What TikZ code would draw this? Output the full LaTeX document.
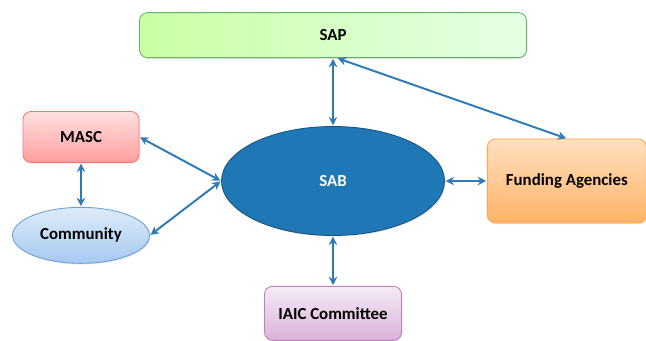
\documentclass[tikz,border=0pt]{standalone}
\usepackage{fontspec}
\setmainfont{Carlito}
\usepackage{tikz}
\usetikzlibrary{positioning}
\usetikzlibrary{shapes.geometric,arrows.meta,shadows}

\definecolor{arrowblue}{HTML}{2E7BB8}
\definecolor{sabblue}{HTML}{1F77B6}
\definecolor{commtop}{HTML}{DEECFA}
\definecolor{commbot}{HTML}{A5C9F1}
\definecolor{commline}{HTML}{6A9FD6}

\begin{document}
\begin{tikzpicture}[
    font=\fontsize{12}{14}\selectfont\bfseries,
    box/.style={rectangle,rounded corners=0.2cm,draw,line width=0.6pt,
      drop shadow={opacity=0.2,shadow xshift=0.8pt,shadow yshift=-0.8pt}},
    oval/.style={ellipse,draw,line width=0.6pt,
      drop shadow={opacity=0.2,shadow xshift=0.8pt,shadow yshift=-0.8pt}},
    both/.style={{Stealth[length=6pt,width=6pt]}-{Stealth[length=6pt,width=6pt]},
      draw=arrowblue,line width=1.4pt,shorten <=0.5pt,shorten >=0.5pt}
  ]
  \useasboundingbox (0,0) rectangle (16.15,-8.525);
                  \node [oval,fill=sabblue,draw=sabblue!70!black,text=white,
                    minimum width=5.575cm,minimum height=2.725cm] (sab) at (8.325,-4.525) {SAB};
                  \node [box,left color=green!45!lime!35,right color=green!10!white,draw=green!50!black!60,
                    minimum width=9.675cm,minimum height=1.125cm] (sap) [above=1.7cm of sab] {SAP};
                  \node [box,top color=orange!25,bottom color=orange!60,draw=orange!70,
                    minimum width=3.975cm,minimum height=2.1cm] (fund) [right=1.05cm of sab] {Funding Agencies};
                  \node [box,top color=violet!8,bottom color=violet!30,draw=violet!50,
                    minimum width=3.425cm,minimum height=1.35cm] (iaic) [below=1.25cm of sab] {IAIC Committee};
                  \node [box,top color=red!12,bottom color=red!38,draw=red!55,
                    minimum width=2.9cm,minimum height=1.275cm] (masc) at (2.025,-3.425) {MASC};
                  \node [oval,top color=commtop,bottom color=commbot,draw=commline,
                    minimum width=3.425cm,minimum height=1.4cm] (comm) [below=1.1cm of masc] {Community};

                  \draw [both] (sab) -- (sap);
                  \draw [both] ([xshift=0.1cm]sap.south) -- (fund.north);
                  \draw [both] (sab) -- (fund);
                  \draw [both] (sab) -- (iaic);
                  \draw [both] (masc.east) -- (sab.west);
                  \draw [both] (comm.east) -- (sab.west);
                  \draw [both] (masc) -- (comm);
\end{tikzpicture}
\end{document}
